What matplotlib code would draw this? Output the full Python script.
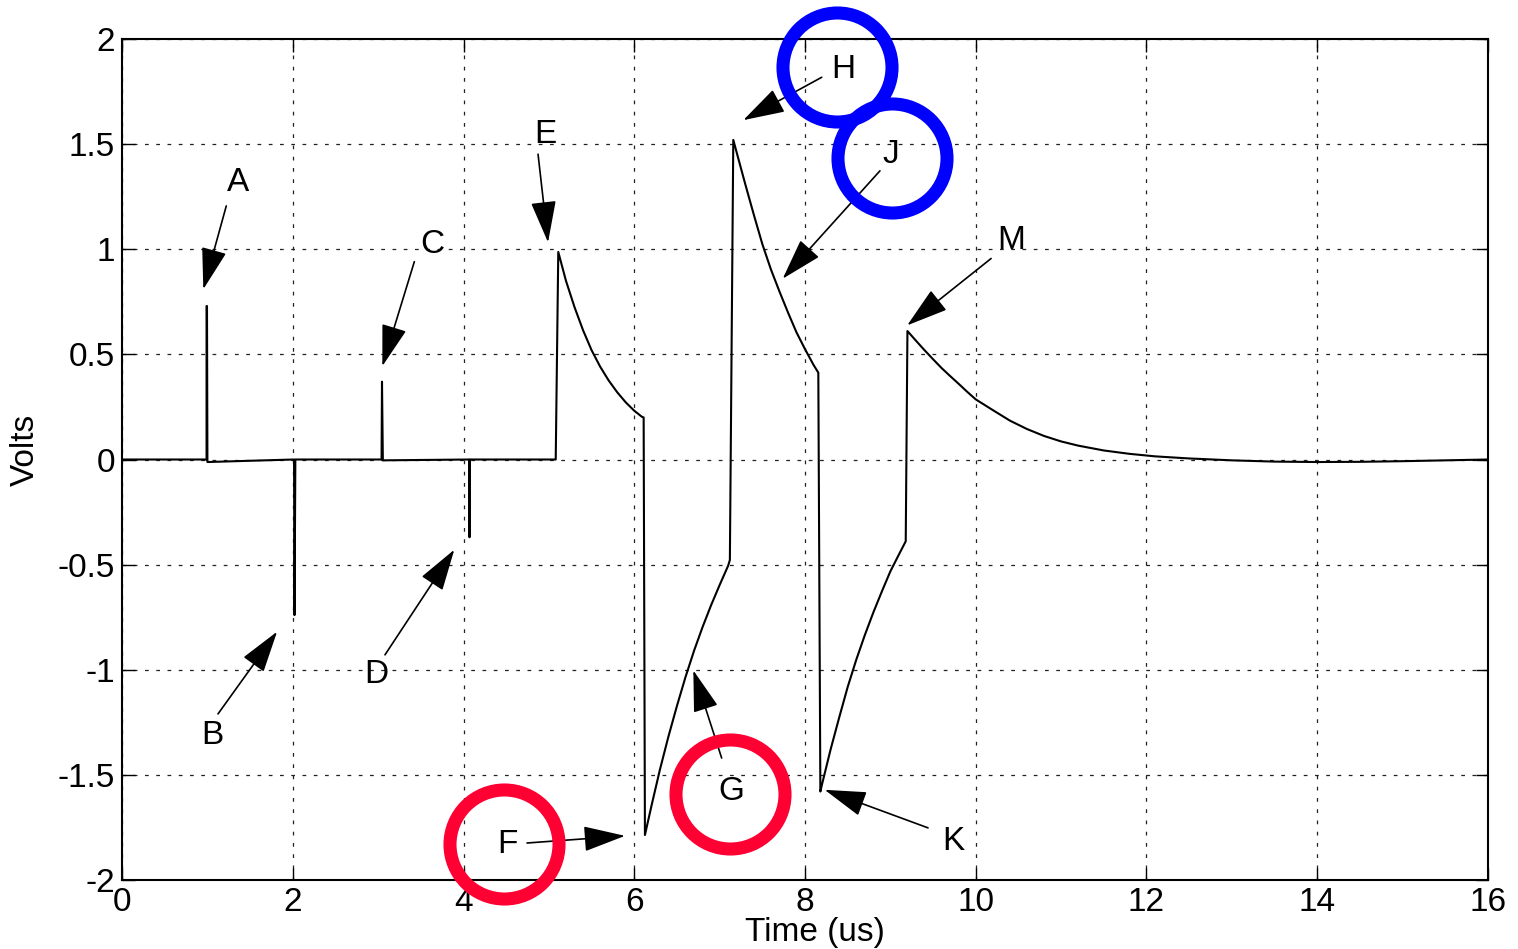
import matplotlib.pyplot as plt

plt.rcParams['font.family'] = ['Liberation Sans', 'DejaVu Sans']

# waveform (time in us, volts)
time_us = [0.0, 0.99, 0.99, 0.995, 1.0, 1.5, 2.015, 2.02, 2.03, 3.04, 3.045, 3.055,
           4.065, 4.07, 4.075, 5.08, 5.11,
           # E decay
           5.2, 5.3, 5.4, 5.5, 5.6, 5.7, 5.8, 5.9, 6.0, 6.09, 6.11,
           # F drop, G rise
           6.125, 6.2, 6.3, 6.4, 6.5, 6.6, 6.7, 6.8, 6.9, 7.0, 7.1, 7.12,
           # H peak, J decay
           7.16, 7.2, 7.3, 7.4, 7.5, 7.6, 7.7, 7.8, 7.9, 8.0, 8.1, 8.156,
           # K drop and rise
           8.18, 8.2, 8.3, 8.4, 8.5, 8.6, 8.7, 8.8, 8.9, 9.0, 9.1, 9.18,
           # M peak and tail
           9.2, 9.3, 9.4, 9.5, 9.6, 9.7, 9.8, 9.9, 10.0, 10.2, 10.4, 10.6, 10.8, 11.0,
           11.2, 11.5, 11.8, 12.1, 12.5, 13.0, 13.5, 14.0, 14.5, 15.0, 15.5, 16.0]
volts = [0.0, 0.0, 0.73, 0.73, -0.012, -0.006, 0.0, -0.74, 0.0, 0.0, 0.37, -0.004,
         0.0, -0.37, 0.0, 0.0, 0.987,
         0.85, 0.725, 0.615, 0.52, 0.442, 0.376, 0.32, 0.272, 0.232, 0.203, 0.20,
         -1.786, -1.65, -1.476, -1.318, -1.172, -1.035, -0.91, -0.797, -0.693, -0.597, -0.505, -0.478,
         1.52, 1.46, 1.31, 1.165, 1.025, 0.905, 0.80, 0.70, 0.605, 0.525, 0.45, 0.413,
         -1.579, -1.544, -1.379, -1.228, -1.082, -0.953, -0.836, -0.728, -0.628, -0.532, -0.452, -0.389,
         0.611, 0.565, 0.52, 0.477, 0.435, 0.397, 0.36, 0.322, 0.286, 0.235, 0.185, 0.145, 0.112, 0.086,
         0.066, 0.043, 0.027, 0.015, 0.005, -0.004, -0.01, -0.012, -0.011, -0.008, -0.004, 0.0]

x_ticks = [0, 2, 4, 6, 8, 10, 12, 14, 16]
y_ticks = [-2, -1.5, -1, -0.5, 0, 0.5, 1, 1.5, 2]
y_tick_labels = ['-2', '-1.5', '-1', '-0.5', '0', '0.5', '1', '1.5', '2']

# annotation letters: text position, arrow tail and arrow tip
labels = ['A', 'B', 'C', 'D', 'E', 'F', 'G', 'H', 'J', 'K', 'M']
label_t = [1.363, 1.054, 3.635, 2.975, 4.955, 4.51, 7.14, 8.449, 9.007, 9.734, 10.41]
label_v = [1.317, -1.314, 1.024, -1.024, 1.548, -1.833, -1.581, 1.857, 1.452, -1.819, 1.04]
tail_t = [1.221, 1.124, 3.424, 3.080, 4.873, 4.744, 7.024, 8.196, 8.878, 9.441, 10.18]
tail_v = [1.206, -1.210, 0.941, -0.929, 1.452, -1.824, -1.420, 1.818, 1.373, -1.752, 0.956]
tip_t = [0.952, 1.816, 3.049, 3.892, 4.99, 5.892, 6.692, 7.277, 7.739, 8.23, 9.197]
tip_v = [0.810, -0.819, 0.444, -0.429, 1.033, -1.790, -1.003, 1.614, 0.860, -1.571, 0.638]

# ring highlights
circle_t = [4.48, 7.12, 8.371, 9.015]
circle_v = [-1.829, -1.59, 1.865, 1.432]
circle_colors = ['#ff0033', '#ff0033', '#0000ff', '#0000ff']

fig = plt.figure(figsize=(15.18, 9.49), dpi=100)
ax = fig.add_axes([0.0804, 0.0727, 0.8998, 0.8862])

ax.plot(time_us, volts, color='black', lw=1.5, zorder=3)

ax.set_xlim(0, 16)
ax.set_ylim(-2, 2)
ax.set_xticks(x_ticks)
ax.set_xticklabels([str(t) for t in x_ticks])
ax.set_yticks(y_ticks)
ax.set_yticklabels(y_tick_labels)
ax.tick_params(direction='in', length=9, width=1, labelsize=24,
               top=True, right=True, pad=5)
ax.grid(True, color='#222222', linestyle=(0, (3, 6)), lw=0.9)
for sp in ax.spines.values():
    sp.set_linewidth(1.5)

for i, lab in enumerate(labels):
    ax.annotate('', xy=(tip_t[i], tip_v[i]), xytext=(tail_t[i], tail_v[i]),
                arrowprops=dict(arrowstyle='-|>,head_length=1.05,head_width=0.32',
                                mutation_scale=25, color='black', lw=1.2,
                                shrinkA=0, shrinkB=0), zorder=4)
    ax.text(label_t[i], label_v[i], lab, fontsize=24, ha='center', va='center', zorder=5)

for i in range(len(circle_t)):
    ax.plot(circle_t[i], circle_v[i], marker='o', markersize=78.5, markerfacecolor='none',
            markeredgecolor=circle_colors[i], markeredgewidth=9.4, clip_on=False, zorder=6)

fig.text(25 / 1518, 1 - 450 / 949, 'Volts', rotation=90, ha='center', va='center', fontsize=24)
fig.text(815 / 1518, 1 - 933 / 949, 'Time (us)', ha='center', va='center', fontsize=24)

plt.savefig('out.png', dpi=100)
